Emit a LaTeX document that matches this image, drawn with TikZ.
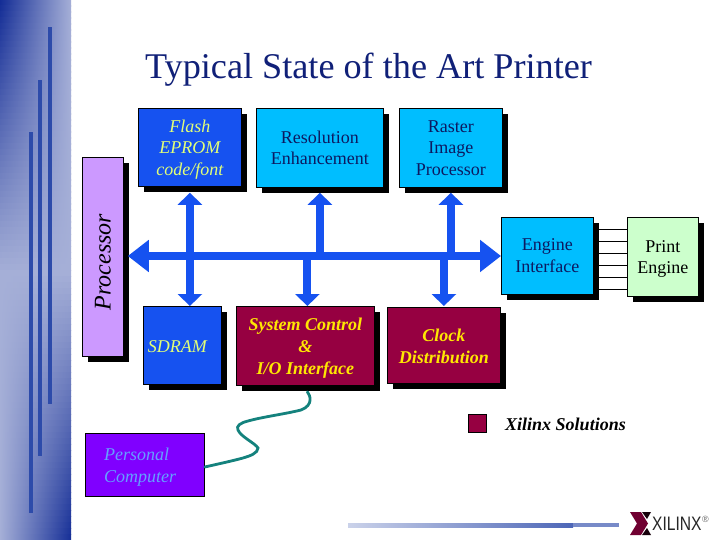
\documentclass[tikz,border=0pt]{standalone}
\usepackage{fontspec}
\setmainfont{Liberation Serif}
\setsansfont{Liberation Sans}
\usetikzlibrary{arrows.meta,calc}
\definecolor{navy}{RGB}{16,32,120}
\definecolor{flashblue}{RGB}{22,82,240}
\definecolor{cyanbox}{RGB}{0,190,255}
\definecolor{maroonbox}{RGB}{150,0,65}
\definecolor{lilac}{RGB}{204,153,255}
\definecolor{mint}{RGB}{204,255,204}
\definecolor{purplebox}{RGB}{128,0,255}
\definecolor{pcblue}{RGB}{100,160,255}
\definecolor{teal2}{RGB}{20,130,125}
\definecolor{limey}{RGB}{225,255,120}
\definecolor{sideDark}{RGB}{20,45,150}
\definecolor{sideLight}{RGB}{165,175,215}
\definecolor{stripe}{RGB}{45,75,170}
\tikzset{
  x=1pt,y=-1pt,
  boxbase/.style={draw=black,line width=.8pt,anchor=north west,inner sep=0pt,align=center,
     font=\fontsize{18}{21.7}\selectfont},
  flashbox/.style={boxbase,fill=flashblue,text=limey,font=\fontsize{18}{21.5}\selectfont\itshape},
  cyanblock/.style={boxbase,fill=cyanbox,text=navy!80!black},
  maroonblock/.style={boxbase,fill=maroonbox,text=yellow!90!orange,font=\fontsize{18}{22}\selectfont\itshape\bfseries},
  shadowbox/.style={fill=black,draw=none},
  busline/.style={draw=flashblue,line width=8pt},
  tipup/.style={busline,-{Triangle[length=12pt,width=24pt]}},
  tipboth/.style={busline,{Triangle[length=21pt,width=31pt]}-{Triangle[length=21pt,width=31pt]}},
  wire/.style={draw=black,line width=.9pt},
  stripeline/.style={fill=stripe,draw=none},
  cable/.style={draw=teal2,line width=2.8pt},
}
\newcommand{\blockat}[8]{% name, style, x1, y1, x2, y2, text, text drop
  \fill[shadowbox] (#3+6,#4+6) rectangle (#5+6,#6+6);
  \node[#2,minimum width=#5pt-#3pt,minimum height=#6pt-#4pt] (#1) at (#3,#4) {};
  \node[#2,draw=none,fill=none,anchor=center] (#1text) at ([yshift=-#8pt]#1.center) {#7};
}
\begin{document}
\begin{tikzpicture}
\useasboundingbox (0,0) rectangle (720,540);
\fill[white] (0,0) rectangle (720,540);
% sidebar: dark on the left at the top, dark on the right at the bottom
\foreach \yy in {0,6,...,534}{
  \pgfmathsetmacro{\lmix}{max(0,100*(1-\yy/270))}
  \pgfmathsetmacro{\rmix}{max(0,100*(\yy/270-1))}
  \shade[left color=sideDark!\lmix!sideLight,right color=sideDark!\rmix!sideLight] (0,\yy) rectangle (71,\yy+6.5);
}
\fill[stripeline] (48,27) rectangle (52,404);
\fill[stripeline] (38,80) rectangle (42,456);
\fill[stripeline] (29,132) rectangle (33,513);
% title
\node[anchor=base,text=navy,font=\fontsize{36.2}{40}\selectfont] (title) at (368.5,79) {Typical State of the Art Printer};
% blocks
\blockat{proc}{boxbase,fill=lilac}{82}{157}{123}{356}{}{0}
\node[rotate=90,text=black,font=\fontsize{24}{28}\selectfont\itshape] (proclabel) at (103,262) {Processor};
\blockat{flash}{flashbox}{138}{108}{241}{186}{Flash\\EPROM\\code/font}{2}
\blockat{res}{cyanblock}{256}{108}{383}{187}{Resolution\\Enhancement}{0}
\blockat{rip}{cyanblock}{399}{108}{502}{187}{Raster\\Image\\Processor}{0}
\blockat{eng}{cyanblock}{501}{217}{593}{294}{Engine\\Interface}{0}
\blockat{pe}{boxbase,fill=mint,text=black}{627}{217}{698}{296}{Print\\Engine}{2}
\blockat{sd}{flashbox}{143}{306}{221}{384}{SDRAM\hspace{10pt}}{1}
\blockat{sys}{maroonblock}{236}{306}{374}{385}{System Control\\\&\\I/O Interface}{2}
\blockat{clk}{maroonblock}{387}{307}{500}{383}{Clock\\Distribution}{1}
\node[draw=black,line width=.8pt,fill=purplebox,anchor=north west,minimum width=119pt,minimum height=63pt,inner sep=0pt] (pc) at (85,433) {};
\node[anchor=west,text=pcblue,align=left,inner sep=0pt,font=\fontsize{18}{22}\selectfont\itshape] (pclabel) at (104,467) {Personal\\Computer};
% wires
\foreach \yy in {229,241,253,265,277,289}
  \draw[wire] (eng.east |- 0,\yy) -- (pe.west |- 0,\yy);
% bus
\coordinate (bus) at (300,256);
\draw[tipboth] ([xshift=4pt]proc.east |- bus) -- (eng.west |- bus);
\draw[tipup] (flash.south |- bus) -- ([yshift=-6pt]flash.south);
\draw[tipup] (flash.south |- bus) -- (flash.south |- sd.north);
\draw[tipup] (res.south |- bus) -- ([yshift=-5pt]res.south);
\draw[tipup] (rip.south |- bus) -- ([yshift=-5pt]rip.south);
\draw[tipup] ([xshift=2pt]sys.north |- bus) -- ([xshift=2pt]sys.north);
\draw[tipup] (clk.north |- bus) -- ([yshift=1pt]clk.north);
% legend
\node[draw=black,line width=.8pt,fill=maroonbox,anchor=north west,minimum width=18pt,minimum height=18pt,inner sep=0pt] (legend) at (468,414) {};
\node[anchor=west,inner sep=0pt,font=\fontsize{18}{20}\selectfont\itshape\bfseries] (legendlabel) at (505,424) {Xilinx Solutions};
% cable
\draw[cable,line cap=round] ([xshift=2pt,yshift=-6pt]sys.south)
  .. controls (310,395) and (314,405) .. (301,410)
  .. controls (285,414) and (262,417) .. (248,421)
  .. controls (240,423) and (236,426) .. (238,430)
  .. controls (241,437) and (255,443) .. (258,448)
  .. controls (258,453) and (250,456) .. (243,458)
  .. controls (232,461) and (218,464) .. (pc.east |- 0,467);
% bottom rule
\shade[left color=stripe!25!white,right color=stripe!85!white] (348,523) rectangle (573,527);
\fill[stripe!65!white] (573,523) rectangle (619,527);
% logo
\fill[maroonbox!75!black] (630,512) -- (641,512) -- (648,523.5) -- (641,535) -- (630,535) -- (637,523.5) -- cycle;
\fill[black!85!maroonbox] (642,512) -- (651,512) -- (647,519) -- cycle;
\fill[black!85!maroonbox] (642,535) -- (651,535) -- (647,528) -- cycle;
\node[anchor=west,inner sep=0pt,text=black!85,xscale=.8,font=\sffamily\fontsize{19.5}{20}\selectfont] (logo) at (652,524) {XILINX};
\node[anchor=west,inner sep=0pt,text=black!60,font=\sffamily\fontsize{9}{9}\selectfont] (reg) at (702,519) {®};
\end{tikzpicture}
\end{document}
